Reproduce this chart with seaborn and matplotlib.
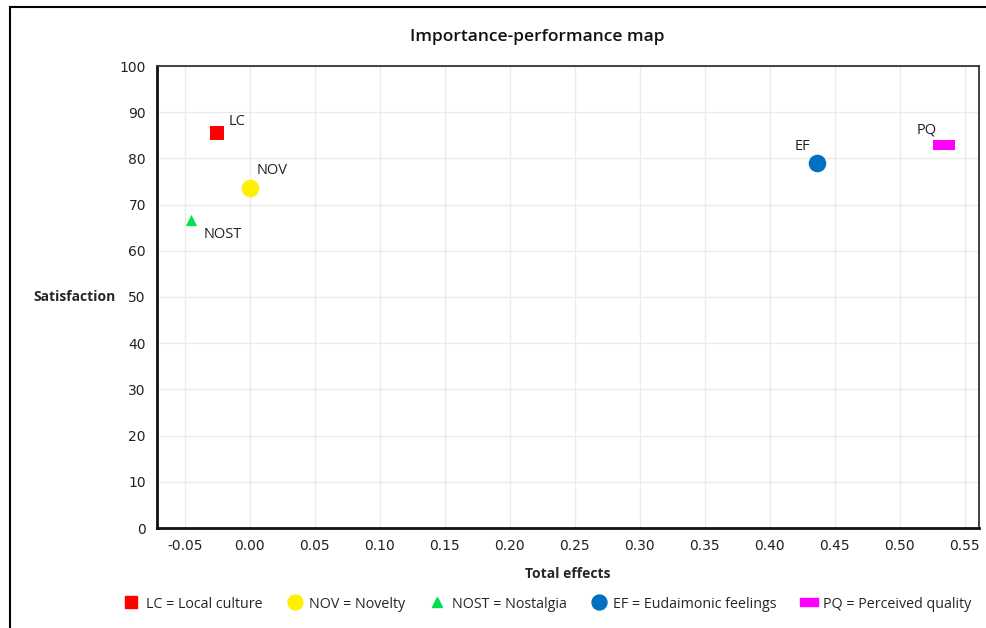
import matplotlib
matplotlib.use("Agg")
import matplotlib.pyplot as plt
import matplotlib.patches as mpatches
from matplotlib.lines import Line2D
import seaborn as sns

# data
codes = ["LC", "NOV", "NOST", "EF", "PQ"]
names = ["Local culture", "Novelty", "Nostalgia", "Eudaimonic feelings", "Perceived quality"]
total_effects = [-0.025, 0.000, -0.045, 0.436, 0.534]
satisfaction = [85.4, 73.6, 66.7, 79.1, 83.0]
x_ticks = [-0.05, 0.00, 0.05, 0.10, 0.15, 0.20, 0.25, 0.30, 0.35, 0.40, 0.45, 0.50, 0.55]
y_ticks = [0, 10, 20, 30, 40, 50, 60, 70, 80, 90, 100]

rect_marker = [(-1, -0.45), (1, -0.45), (1, 0.45), (-1, 0.45), (-1, -0.45)]
styles = {
    "LC": dict(color="#FF0000", marker="s", s=100),
    "NOV": dict(color="#FFF000", marker="o", s=160),
    "NOST": dict(color="#00E050", marker="^", s=65),
    "EF": dict(color="#0070C0", marker="o", s=160),
    "PQ": dict(color="#FF00FF", marker=rect_marker, s=230),
}
label_offsets = {
    "LC": (11, 12, "left"),
    "NOV": (7, 17, "left"),
    "NOST": (12, -15, "left"),
    "EF": (-14, 16, "center"),
    "PQ": (-17, 15, "center"),
}

sns.set_theme(style="white")
plt.rcParams["font.family"] = ["DejaVu Sans"]

fig = plt.figure(figsize=(9.86, 6.28), dpi=100)
ax = fig.add_axes([157 / 986, 1 - 528 / 628, (979 - 157) / 986, (528 - 66) / 628])

for c, xv, yv in zip(codes, total_effects, satisfaction):
    st = styles[c]
    sns.scatterplot(x=[xv], y=[yv], ax=ax, color=st["color"], marker=st["marker"],
                    s=st["s"], linewidth=0, zorder=3, legend=False)
    dx, dy, ha = label_offsets[c]
    ax.annotate(c, (xv, yv), xytext=(dx, dy), textcoords="offset pixels",
                ha=ha, va="center", fontsize=10.5, color="#222222", family="Open Sans")

ax.set_xlim(-0.0715, 0.561)
ax.set_ylim(0, 100)
ax.set_xticks(x_ticks)
ax.set_xticklabels([f"{v:.2f}" for v in x_ticks])
ax.set_yticks(y_ticks)
ax.tick_params(axis="both", labelsize=10, colors="#222222", length=0, pad=8)
ax.grid(True, color="#EBEBEB", linewidth=1)
for side in ["left", "bottom"]:
    ax.spines[side].set_color("#111111")
    ax.spines[side].set_linewidth(2)
for side in ["top", "right"]:
    ax.spines[side].set_color("#333333")
    ax.spines[side].set_linewidth(1.3)

fig.text(537 / 986, 1 - 37 / 628, "Importance-performance map", fontsize=12.5,
         fontweight="semibold", family="Open Sans", ha="center", va="center", color="#111111")
ax.set_xlabel("Total effects", fontsize=10, fontweight="bold", family="Open Sans", labelpad=10)
ax.set_ylabel("Satisfaction", fontsize=10, fontweight="bold", family="Open Sans",
              rotation=0, ha="right", va="center", labelpad=3)

handles = []
for c, n in zip(codes, names):
    st = styles[c]
    handles.append(Line2D([], [], linestyle="none", marker=st["marker"], color=st["color"],
                          markersize=st["s"] ** 0.5 * 0.85, label=f"{c} = {n}"))
fig.legend(handles=handles, loc="center", bbox_to_anchor=(547 / 986, 1 - 604 / 628), ncol=5,
           frameon=False, prop={"family": "Open Sans", "size": 10.3}, handletextpad=0.4,
           columnspacing=1.65, handlelength=1.2)

# outer frame around the figure
frame = mpatches.Rectangle((10 / 986, -0.05), 1.2, 1 - 7 / 628 + 0.05, transform=fig.transFigure,
                           fill=False, edgecolor="black", linewidth=1.5, clip_on=False)
fig.patches.append(frame)

fig.savefig("out.png", dpi=100)
